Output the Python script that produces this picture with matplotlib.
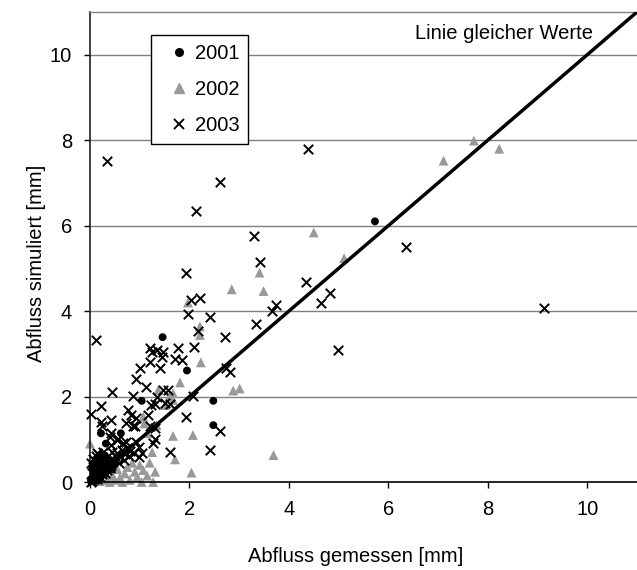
import matplotlib
matplotlib.use("Agg")
import matplotlib.pyplot as plt
from matplotlib.lines import Line2D

plt.rcParams['font.family'] = ['Liberation Sans', 'DejaVu Sans']

# ---- data ----
x2001 = [5.73, 1.46, 1.95, 2.48, 2.48, 1.04, 0.22, 0.32, 0.62,
         0.02, 0.05, 0.08, 0.10, 0.12, 0.15, 0.18, 0.20, 0.22, 0.25,
         0.28, 0.30, 0.33, 0.36, 0.40, 0.05, 0.10, 0.15, 0.20, 0.25,
         0.30, 0.35, 0.08, 0.14, 0.45, 0.50]
y2001 = [6.10, 3.39, 2.61, 1.90, 1.33, 1.90, 1.14, 0.90, 1.14,
         0.02, 0.05, 0.10, 0.15, 0.03, 0.20, 0.08, 0.30, 0.12, 0.25,
         0.40, 0.18, 0.35, 0.28, 0.45, 0.35, 0.45, 0.55, 0.50, 0.60,
         0.62, 0.55, 0.25, 0.38, 0.30, 0.42]

x2002 = [7.72, 8.23, 7.11, 4.50, 5.11, 3.41, 2.85, 3.49, 1.97, 2.21,
         2.21, 2.23, 1.81, 2.88, 3.01, 1.37, 1.67, 1.67, 1.51, 1.07,
         1.34, 1.09, 1.16, 1.67, 2.07, 0.00, 3.69, 1.71, 1.31, 1.07,
         0.90, 0.70, 2.04, 1.27, 1.04, 1.61, 0.50, 0.60, 0.80, 0.95,
         0.45, 0.55, 0.75, 0.85, 1.00, 1.15, 0.65, 0.35, 0.20, 0.30,
         1.20, 0.40, 1.25]
y2002 = [7.99, 7.80, 7.52, 5.84, 5.24, 4.90, 4.51, 4.47, 4.20, 3.64,
         3.44, 2.80, 2.33, 2.14, 2.19, 2.15, 2.08, 1.92, 1.80, 1.53,
         1.33, 1.37, 1.14, 1.08, 1.10, 0.90, 0.63, 0.53, 0.24, 0.28,
         0.24, 0.20, 0.22, 0.00, 0.00, 2.04, 0.05, 0.10, 0.05, 0.12,
         0.15, 0.30, 0.35, 0.45, 0.40, 0.15, 0.00, 0.05, 0.02, 0.25,
         0.45, 0.00, 0.70]

x2003 = [0.35, 2.61, 2.13, 3.30, 3.41, 1.93, 2.04, 2.21, 3.75, 3.65,
         4.38, 6.35, 4.34, 4.82, 4.65, 9.12, 4.99, 3.33, 2.81, 1.97,
         2.41, 2.17, 2.71, 0.12, 2.09, 1.77, 1.20, 1.24, 1.34, 1.47,
         1.44, 1.71, 1.86, 1.20, 1.41, 1.00, 2.74, 0.92, 1.12, 1.47,
         1.57, 0.87, 2.07, 1.34, 1.31, 1.51, 1.61, 0.44, 1.93, 1.20,
         1.31, 2.62, 2.41, 1.31, 1.27, 1.61, 1.04, 0.02, 0.22, 0.22,
         0.25, 0.42, 0.76, 0.82, 0.92, 0.72, 0.86, 0.90, 0.42, 0.56,
         0.66, 0.72, 0.92, 0.99, 0.15, 0.42, 0.45, 0.89, 0.99, 1.16,
         1.22, 0.40, 0.54,
         0.02, 0.05, 0.08, 0.10, 0.12, 0.15, 0.18, 0.20, 0.22, 0.25,
         0.28, 0.30, 0.32, 0.35, 0.38, 0.40, 0.05, 0.10, 0.15, 0.20,
         0.25, 0.30, 0.35, 0.03, 0.07, 0.12, 0.17, 0.22, 0.27, 0.45,
         0.50, 0.55, 0.60, 0.65, 0.70, 0.75, 0.80, 0.58, 0.68, 0.78]
y2003 = [7.51, 7.01, 6.35, 5.75, 5.14, 4.90, 4.25, 4.30, 4.15, 4.01,
         7.80, 5.50, 4.67, 4.43, 4.20, 4.07, 3.09, 3.69, 2.58, 3.93,
         3.87, 3.54, 3.40, 3.33, 3.17, 3.13, 3.13, 3.05, 3.09, 3.05,
         2.93, 2.87, 2.86, 2.82, 2.66, 2.66, 2.66, 2.40, 2.23, 2.15,
         2.15, 2.01, 2.01, 1.98, 1.83, 1.84, 1.83, 2.11, 1.53, 1.30,
         1.26, 1.20, 0.75, 1.00, 0.91, 0.70, 0.67, 1.59, 1.78, 1.41,
         1.31, 1.44, 1.69, 1.57, 1.49, 1.37, 1.30, 1.30, 1.14, 1.00,
         0.92, 0.94, 0.94, 0.83, 0.67, 0.87, 0.71, 0.67, 0.59, 1.57,
         1.80, 1.06, 0.98,
         0.00, 0.03, 0.06, 0.10, 0.14, 0.08, 0.20, 0.12, 0.26, 0.18,
         0.30, 0.22, 0.36, 0.28, 0.40, 0.33, 0.20, 0.30, 0.40, 0.45,
         0.50, 0.55, 0.48, 0.45, 0.55, 0.60, 0.65, 0.58, 0.70, 0.52,
         0.60, 0.68, 0.58, 0.75, 0.66, 0.80, 0.72, 0.45, 0.52, 0.62]

xticks = [0, 2, 4, 6, 8, 10]
yticks = [0, 2, 4, 6, 8, 10]
axis_max = 11
equal_line = [0, axis_max]

# ---- figure ----
fig = plt.figure(figsize=(6.37, 5.7), dpi=100)
ax = fig.add_axes([90 / 637, 88 / 570, 547 / 637, 470 / 570])

ax.set_xlim(0, axis_max)
ax.set_ylim(0, axis_max)

for yv in yticks[1:]:
    ax.axhline(yv, color='#808080', lw=1.0, zorder=0)

ax.scatter(x2003, y2003, marker='x', s=46, c='black', linewidths=1.4,
           zorder=3, clip_on=False, label='2003')
ax.scatter(x2002, y2002, marker='^', s=50, c='#999999', edgecolors='none',
           zorder=2, clip_on=False, label='2002')
ax.scatter(x2001, y2001, marker='o', s=32, c='black', edgecolors='none',
           zorder=4, clip_on=False, label='2001')

ax.plot(equal_line, equal_line, color='black', lw=2.5, zorder=5,
        solid_capstyle='butt')

ax.text(0.92, 0.955, 'Linie gleicher Werte', transform=ax.transAxes,
        ha='right', va='center', fontsize=14.5)

ax.set_xticks(xticks)
ax.set_yticks(yticks)
ax.tick_params(axis='both', direction='out', length=4, width=1,
               labelsize=14.5, colors='black')
ax.tick_params(axis='x', pad=9)
ax.tick_params(axis='y', pad=9)

ax.spines['right'].set_visible(False)
ax.spines['top'].set_color('#808080')
ax.spines['top'].set_linewidth(1.0)
ax.spines['left'].set_color('#202020')
ax.spines['left'].set_linewidth(1.2)
ax.spines['bottom'].set_color('black')
ax.spines['bottom'].set_linewidth(1.2)

ax.set_xlabel('Abfluss gemessen [mm]', fontsize=14.5)
ax.set_ylabel('Abfluss simuliert [mm]', fontsize=14.5)
ax.xaxis.set_label_coords(0.486, -0.138)
ax.yaxis.set_label_coords(-0.08, 0.465)

handles = [
    Line2D([], [], ls='none', marker='o', color='black', markersize=5.5),
    Line2D([], [], ls='none', marker='^', color='#999999', markersize=7),
    Line2D([], [], ls='none', marker='x', color='black', markersize=6.5,
           markeredgewidth=1.4),
]
leg = ax.legend(handles, ['2001', '2002', '2003'], loc='upper left',
                bbox_to_anchor=(0.112, 0.951), borderaxespad=0,
                fontsize=14.5, frameon=True, fancybox=False, framealpha=1,
                edgecolor='black', labelspacing=0.85, handlelength=1.9,
                handletextpad=-0.2, borderpad=0.45)
leg.get_frame().set_linewidth(1.0)
leg.set_zorder(10)

fig.savefig('out.png', dpi=100)
